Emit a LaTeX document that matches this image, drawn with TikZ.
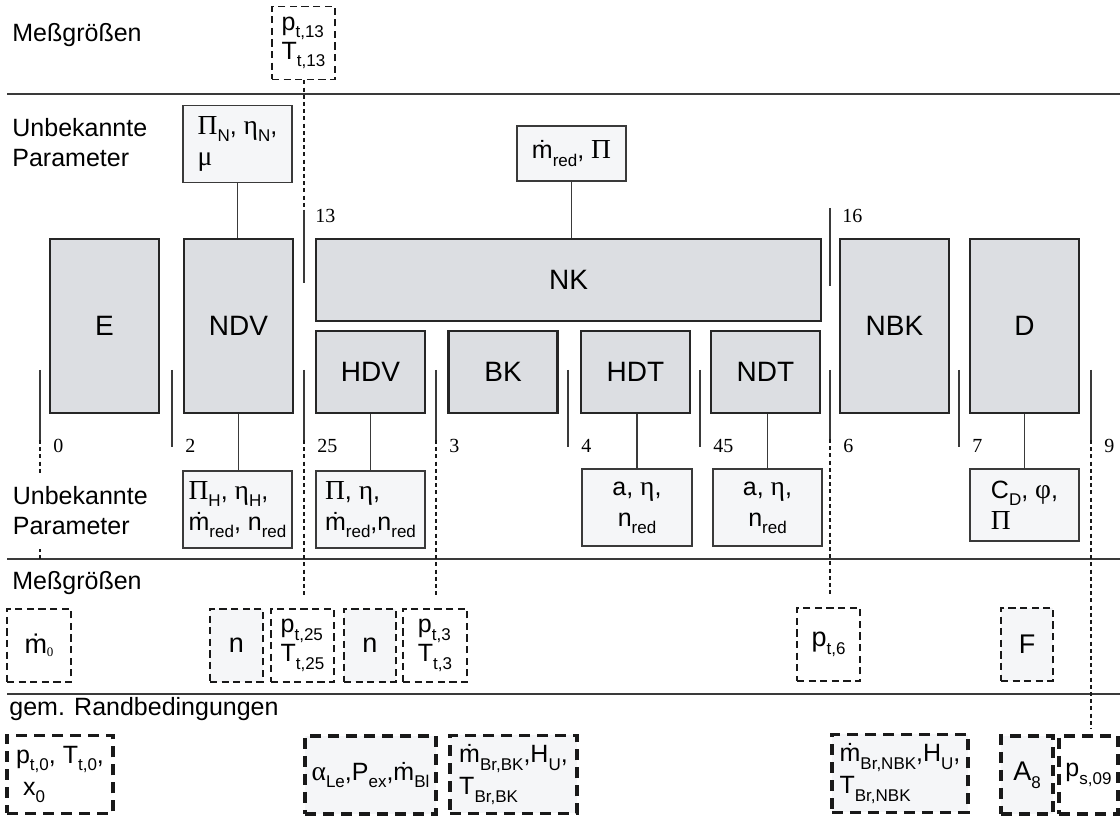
\documentclass[tikz,border=0pt]{standalone}
\usepackage{fontspec}
\setmainfont{Liberation Sans}
\newfontfamily\grk[Scale=1.1]{Liberation Serif}
\newfontfamily\numfont{Liberation Serif}
\usetikzlibrary{positioning}

\definecolor{blockfill}{HTML}{DCDEE2}
\definecolor{parfill}{HTML}{F5F6F8}
\definecolor{linegray}{HTML}{3A3A3A}

\newcommand{\sbs}[1]{\raisebox{-0.55ex}{\fontsize{8.5}{9}\selectfont #1}}
\newcommand{\gr}[1]{{\grk #1}}
\newcommand{\md}{\.{m}}

\begin{document}
\begin{tikzpicture}[x=0.5pt, y=-0.5pt,
    block/.style={draw=black!85, line width=1.4pt, fill=blockfill, inner sep=0pt,
      minimum width=54.5pt, font=\fontsize{14}{16}\selectfont},
    tall/.style={block, minimum height=87pt},
    short/.style={block, minimum height=41pt},
    parbox/.style={draw=linegray, line width=0.6pt, fill=parfill, inner sep=0pt,
      minimum width=54.5pt, minimum height=38.5pt, align=left,
      font=\fontsize{12.5}{15.5}\selectfont},
    measbox/.style={draw=black!90, line width=0.9pt, dash pattern=on 3.6pt off 2.2pt,
      fill=white, inner sep=0pt, minimum height=36.5pt, align=left,
      font=\fontsize{12.5}{14.5}\selectfont},
    bcbox/.style={draw=black!90, line width=1.8pt, dash pattern=on 5.5pt off 3.5pt,
      fill=white, inner sep=0pt, minimum height=39pt, align=left,
      font=\fontsize{12.5}{16}\selectfont},
    letter/.style={align=center, font=\fontsize{13.5}{15}\selectfont},
    station/.style={draw=linegray, line width=0.6pt},
    probe/.style={draw=black!90, line width=0.9pt, dash pattern=on 2pt off 1.6pt},
    link/.style={draw=linegray, line width=0.6pt},
    sep/.style={draw=linegray, line width=0.7pt},
    stnum/.style={anchor=west, inner sep=0pt, font=\numfont\fontsize{10}{10}\selectfont},
    rowlabel/.style={anchor=west, inner sep=0pt, align=left,
      font=\fontsize{12.5}{15}\selectfont}]
\useasboundingbox (0,0) rectangle (1120,817);

% section separators
\coordinate (sepA) at (7,94);
\coordinate (sepB) at (7,559);
\coordinate (sepC) at (7,694);
\foreach \c in {sepA,sepB,sepC}
  \draw[sep] (\c) -- (\c -| 1120,0);

% row titles
\node[rowlabel] (rowMesTop) at (12,35) {Meßgrößen};
\node[rowlabel] (rowParTop) at (12,143) {Unbekannte\\Parameter};
\node[rowlabel] (rowMes) at (12,583) {Meßgrößen};
\node[rowlabel] (rowRand) at (9,709) {gem. Randbedingungen};

% engine components
\node[tall] (E) at (104.5,326) {E};
\node[tall] (NDV) at (238.5,326) {NDV};
\node[block, minimum width=252.5pt, minimum height=41pt] (NK) at (568.5,280) {NK};
\node[short] (HDV) at (370.5,372) {HDV};
\node[short] (BK) at (503,372) {BK};
\node[short] (HDT) at (635.5,372) {HDT};
\node[short] (NDT) at (765.5,372) {NDT};
\node[tall] (NBK) at (894.5,326) {NBK};
\node[tall] (D) at (1024.5,326) {D};

% unknown parameters
\node[parbox] (parN) at (237.5,144) {\gr{Π}\sbs{N}, \gr{η}\sbs{N},\\\gr{μ}};
\node[parbox, minimum height=27.5pt] (parNK) at (571.5,153.5) {\md\sbs{red}, \gr{Π}};
\node[parbox] (parH) at (237.5,509.5) {\gr{Π}\sbs{H}, \gr{η}\sbs{H},\\\md\sbs{red}, n\sbs{red}};
\node[parbox] (parHDV) at (370.5,509.5) {\gr{Π}, \gr{η},\\\md\sbs{red},n\sbs{red}};
\node[parbox, minimum width=55pt, align=center] (parHDT) at (637,507.5) {a, \gr{η},\\n\sbs{red}};
\node[parbox, align=center] (parNDT) at (767.5,507.5) {a, \gr{η},\\n\sbs{red}};
\node[parbox, minimum height=36pt] (parD) at (1024.5,505) {C\sbs{D}, \gr{φ},\\\gr{Π}};

\draw[link] (parN.south) -- (parN.south |- NDV.north);
\draw[link] (parNK.south) -- (parNK.south |- NK.north);
\draw[link] (NDV.south) -- (NDV.south |- parH.north);
\draw[link] (HDV.south) -- (HDV.south |- parHDV.north);
\draw[link] (parHDT.north) -- (parHDT.north |- HDT.south);
\draw[link] (parNDT.north) -- (parNDT.north |- NDT.south);
\draw[link] (parD.north) -- (parD.north |- D.south);

% stations
\foreach \x/\n/\len in {40/0/70, 172/2/77, 304/25/70, 436/3/70, 568/4/77,
                        700/45/77, 830/6/69, 959/7/77, 1091/9/70} {
  \coordinate (s\n) at (\x,370);
  \coordinate (e\n) at (\x,370+\len);
  \draw[station] (s\n) -- (e\n);
  \node[stnum] (l\n) at (\x+13,446) {\n};
}
\coordinate (s13) at (304,210);
\coordinate (s16) at (830,208);
\draw[station] (s13) -- ++(0,73);
\draw[station] (s16) -- ++(0,78);
\node[stnum] (l13) at (315,216) {13};
\node[stnum] (l16) at (842,216) {16};

% measured quantities
\node[measbox, minimum width=31.5pt] (mT13) at (303.5,43) {p\sbs{t,13}\\T\sbs{t,13}};
\node[measbox, minimum width=32pt, letter] (mM0) at (39,645.5) {\md\raisebox{-0.2ex}{\numfont\fontsize{6.5}{6}\selectfont 0}};
\node[measbox, minimum width=26.5pt, fill=parfill, letter] (mN1) at (236.5,645.5) {n};
\node[measbox, minimum width=31.5pt] (mT25) at (302.5,645.5) {p\sbs{t,25}\\T\sbs{t,25}};
\node[measbox, minimum width=26pt, fill=parfill, letter] (mN2) at (370,645.5) {n};
\node[measbox, minimum width=32pt] (mT3) at (435,645.5) {p\sbs{t,3}\\T\sbs{t,3}};
\node[measbox, minimum width=31.5pt, letter] (mP6) at (828.5,644.5) {p\sbs{t,6}};
\node[measbox, minimum width=26pt, fill=parfill, letter] (mF) at (1027,644.5) {F};

% boundary conditions
\node[bcbox, minimum width=53pt] (bc0) at (60,774.5) {p\sbs{t,0}, T\sbs{t,0},\\\ x\sbs{0}};
\node[bcbox, minimum width=65.5pt, fill=parfill] (bcLe) at (370.5,775) {\gr{α}\sbs{Le},P\sbs{ex},\md\sbs{Bl}};
\node[bcbox, minimum width=63.5pt, fill=parfill] (bcBK) at (513.5,774.5) {\md\sbs{Br,BK},H\sbs{U},\\T\sbs{Br,BK}};
\node[bcbox, minimum width=68pt, fill=parfill] (bcNBK) at (900,773.5) {\md\sbs{Br,NBK},H\sbs{U},\\T\sbs{Br,NBK}};
\node[bcbox, minimum width=26pt, fill=parfill, letter] (bcA8) at (1027,775) {A\sbs{8}};
\node[bcbox, minimum width=29.5pt] (bcPs) at (1088.5,775) {p\sbs{s,09}};

% probe lines
\draw[probe] (mT13.south -| s13) -- (s13);
\draw[probe] (e0) -- (e0 |- sepB);
\draw[probe, shorten >=5pt] (e25) -- (e25 |- mT25.north);
\draw[probe, shorten >=5pt] (e3) -- (e3 |- mT3.north);
\draw[probe, shorten >=5pt] (e6) -- (e6 |- mP6.north);
\draw[probe, shorten >=2.5pt] (e9) -- (e9 |- bcPs.north);
\node[rowlabel, fill=white, inner ysep=7pt, inner xsep=0.5pt] (rowPar) at (11.5,511) {Unbekannte\\Parameter};
\end{tikzpicture}
\end{document}
